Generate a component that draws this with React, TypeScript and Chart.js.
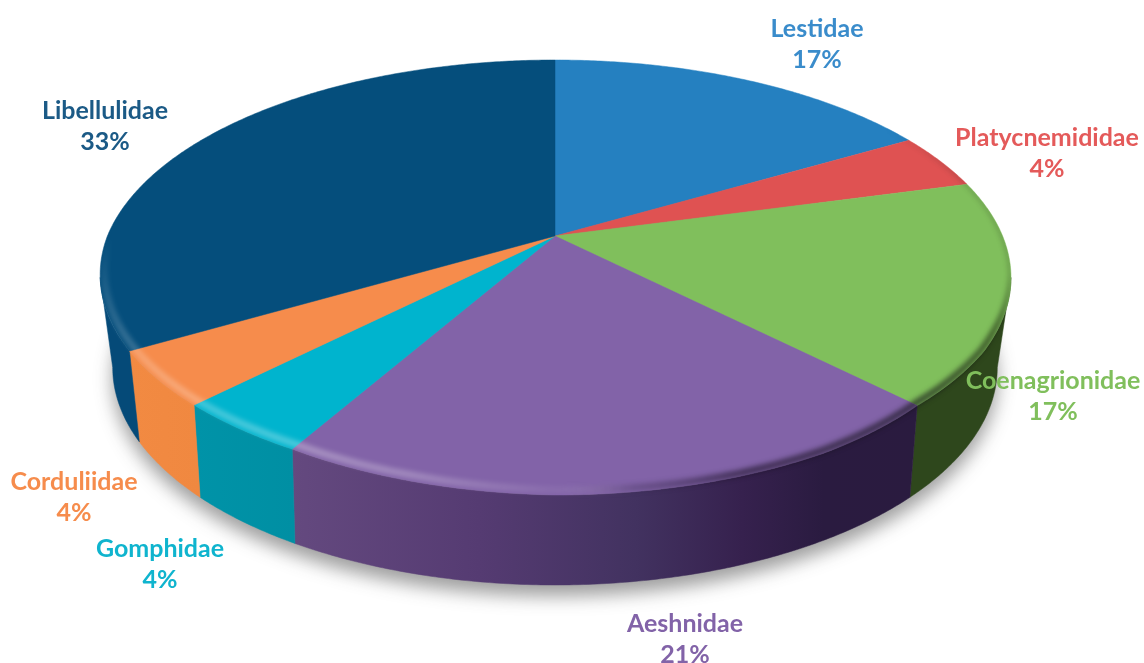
import React, { useEffect, useRef } from "react";
import { Chart, registerables } from "chart.js";

Chart.register(...registerables);

const categories = ["Lestidae", "Platycnemididae", "Coenagrionidae", "Aeshnidae", "Gomphidae", "Corduliidae", "Libellulidae"];
const speciesCounts = [4, 1, 4, 5, 1, 1, 8];
const sliceColors = ["#2580C0", "#DF5252", "#80BF5C", "#8263A8", "#00B4CE", "#F68C4C", "#054E7C"];
const labelColors = ["#3A8CCB", "#E45A5A", "#80BF5C", "#8263A8", "#0FB4CE", "#F68C4C", "#1B5A86"];
const labelCenters = [[817, 29], [1047, 138], [1053, 381], [685, 624], [160, 549], [74, 482], [105, 111]];
const sideStops: [number, string][][] = [
  [[0, "#1A5C8C"], [1, "#1A5C8C"]],
  [[0, "#7A2F2F"], [1, "#7A2F2F"]],
  [[0, "#2E471C"], [1, "#2E471C"]],
  [[0, "#64497F"], [0.3, "#553B72"], [0.55, "#423260"], [0.72, "#36214E"], [0.85, "#2A1B40"], [1, "#2A1B3F"]],
  [[0, "#0093A8"], [1, "#008FA3"]],
  [[0, "#F28A42"], [1, "#F08840"]],
  [[0, "#054A78"], [1, "#054A78"]],
];
// rim look by angle from the top: degrees, r, g, b, alpha, line width, inset fraction
const rimTable = [
  [55, 30, 30, 30, 0, 2, 0.004],
  [70, 30, 30, 30, 0.3, 2, 0.004],
  [100, 25, 35, 15, 0.35, 2.5, 0.004],
  [115, 20, 30, 10, 0.6, 6, 0.012],
  [135, 20, 20, 25, 0.65, 7, 0.012],
  [160, 25, 15, 35, 0.6, 7, 0.012],
  [172, 40, 30, 60, 0.25, 7, 0.015],
  [180, 255, 255, 255, 0.06, 7, 0.02],
  [195, 255, 255, 255, 0.24, 7, 0.024],
  [210, 255, 255, 255, 0.3, 7, 0.024],
  [225, 255, 255, 255, 0.26, 7, 0.024],
  [240, 255, 255, 255, 0.2, 7, 0.024],
  [255, 255, 255, 255, 0.12, 7, 0.02],
  [270, 255, 255, 255, 0, 7, 0.015],
];
// slight inward pull of the rounded rim: degrees, fraction of radius
const rimPull = [[120, 0], [135, 0.01], [150, 0], [180, 0], [210, 0.02], [240, 0.007], [270, 0]];

const CX = 555, CY = 236, PERSP = -0.1908, YK = 164.55, XK = 447.6, DEPTH = 90, BASE_X = 0.97;
const RAD = Math.PI / 180;
const SIDE_FROM = 101 * RAD, SIDE_TO = 259 * RAD;

const lookup = (table: number[][], deg: number): number[] => {
  if (deg <= table[0][0]) return table[0].slice(1);
  for (let i = 1; i < table.length; i++) {
    if (deg <= table[i][0]) {
      const t = (deg - table[i - 1][0]) / (table[i][0] - table[i - 1][0]);
      return table[i].slice(1).map((v, k) => table[i - 1][k + 1] + (v - table[i - 1][k + 1]) * t);
    }
  }
  return table[table.length - 1].slice(1);
};

const flat = (a: number): [number, number] => {
  const u = Math.sin(a), v = -Math.cos(a), d = 1 + PERSP * v;
  return [CX + (XK * u) / d, (YK * v + CY) / d];
};
const top = (a: number): [number, number] => {
  const [x, y] = flat(a);
  const k = 1 - lookup(rimPull, a / RAD)[0];
  return [CX + (x - CX) * k, CY + (y - CY) * k];
};
const base = (a: number): [number, number] => {
  const [x, y] = flat(a);
  return [CX + (x - CX) * BASE_X, y + DEPTH];
};
const trace = (ctx: CanvasRenderingContext2D, f: (a: number) => [number, number], a0: number, a1: number, move: boolean) => {
  const n = Math.max(2, Math.ceil(Math.abs(a1 - a0) / (0.5 * RAD)));
  for (let i = 0; i <= n; i++) {
    const [x, y] = f(a0 + ((a1 - a0) * i) / n);
    if (i === 0 && move) ctx.moveTo(x, y);
    else ctx.lineTo(x, y);
  }
};

const pie3d = {
  id: "pie3d",
  beforeDatasetsDraw(chart: any) {
    const ctx: CanvasRenderingContext2D = chart.ctx;
    const arcs = chart.getDatasetMeta(0).data.map((el: any) => [el.startAngle + Math.PI / 2, el.endAngle + Math.PI / 2]);

    // soft ground shadow
    ctx.save();
    ctx.filter = "blur(9px)";
    ctx.fillStyle = "rgba(40,40,40,0.45)";
    ctx.beginPath();
    trace(ctx, (a) => { const [x, y] = base(a); return [x, y + 11]; }, 0, Math.PI * 2, true);
    ctx.closePath();
    ctx.fill();
    ctx.restore();

    // side walls
    arcs.forEach(([s, e]: number[], i: number) => {
      const a0 = Math.max(s, SIDE_FROM), a1 = Math.min(e, SIDE_TO);
      if (a1 <= a0) return;
      const xs = [top(a0)[0], top(a1)[0], base(a0)[0], base(a1)[0]];
      const g = ctx.createLinearGradient(Math.min(...xs), 0, Math.max(...xs), 0);
      sideStops[i].forEach(([p, c]) => g.addColorStop(p, c));
      ctx.fillStyle = g;
      ctx.strokeStyle = g;
      ctx.lineWidth = 0.5;
      ctx.beginPath();
      trace(ctx, top, a0, a1, true);
      trace(ctx, base, a1, a0, false);
      ctx.closePath();
      ctx.fill();
      ctx.stroke();
    });

    // top faces
    arcs.forEach(([s, e]: number[], i: number) => {
      ctx.fillStyle = sliceColors[i];
      ctx.strokeStyle = sliceColors[i];
      ctx.lineWidth = 0.5;
      ctx.beginPath();
      ctx.moveTo(CX, CY);
      trace(ctx, top, s, e, false);
      ctx.closePath();
      ctx.fill();
      ctx.stroke();
    });

    // bevel along the rim, painted apart and then blurred inside each slice
    const off = document.createElement("canvas");
    off.width = chart.canvas.width;
    off.height = chart.canvas.height;
    const oc = off.getContext("2d")!;
    const inset = (a: number, f: number): [number, number] => {
      const [x, y] = top(a);
      return [CX + (x - CX) * (1 - f * 0.5), CY + (y - CY) * (1 - f)];
    };
    oc.lineCap = "butt";
    for (let d = 55; d < 270; d++) {
      const [r, g, b, al, w, f] = lookup(rimTable, d + 0.5);
      oc.strokeStyle = `rgba(${r | 0},${g | 0},${b | 0},${al})`;
      oc.lineWidth = w;
      oc.beginPath();
      const p = inset(d * RAD, f), q = inset((d + 1) * RAD, f);
      oc.moveTo(p[0], p[1]);
      oc.lineTo(q[0], q[1]);
      oc.stroke();
    }
    arcs.forEach(([s, e]: number[]) => {
      ctx.save();
      ctx.beginPath();
      ctx.moveTo(CX, CY);
      trace(ctx, top, s, e, false);
      ctx.closePath();
      const b0 = Math.max(s, SIDE_FROM), b1 = Math.min(e, SIDE_TO);
      if (b1 > b0) {
        trace(ctx, top, b0, b1, true);
        trace(ctx, base, b1, b0, false);
        ctx.closePath();
      }
      ctx.clip();
      ctx.filter = "blur(2.5px)";
      ctx.drawImage(off, 0, 0);
      ctx.restore();
    });
    return false;
  },
  afterDraw(chart: any) {
    const ctx: CanvasRenderingContext2D = chart.ctx;
    const values: number[] = chart.data.datasets[0].data;
    const total = values.reduce((p, c) => p + c, 0);
    ctx.save();
    ctx.textAlign = "center";
    ctx.textBaseline = "middle";
    ctx.font = 'bold 25px Lato, "Open Sans", sans-serif';
    chart.data.labels.forEach((name: string, i: number) => {
      const [x, y] = labelCenters[i];
      ctx.fillStyle = labelColors[i];
      ctx.fillText(name, x, y);
      ctx.fillText(`${Math.round((values[i] / total) * 100)}%`, x, y + 31);
    });
    ctx.restore();
  },
};

export default function App() {
  const ref = useRef<HTMLCanvasElement>(null);
  useEffect(() => {
    const chart = new Chart(ref.current!, {
      type: "pie",
      data: {
        labels: categories,
        datasets: [{ data: speciesCounts, backgroundColor: sliceColors, borderWidth: 0 }],
      },
      options: {
        animation: false,
        responsive: false,
        devicePixelRatio: 1,
        events: [],
        plugins: { legend: { display: false }, tooltip: { enabled: false } },
      },
      plugins: [pie3d],
    } as any);
    return () => chart.destroy();
  }, []);
  return (
    <div style={{ position: "fixed", left: 0, top: 0, width: 1144, height: 663, background: "#fff" }}>
      <canvas ref={ref} width={1144} height={663} style={{ display: "block" }} />
    </div>
  );
}
